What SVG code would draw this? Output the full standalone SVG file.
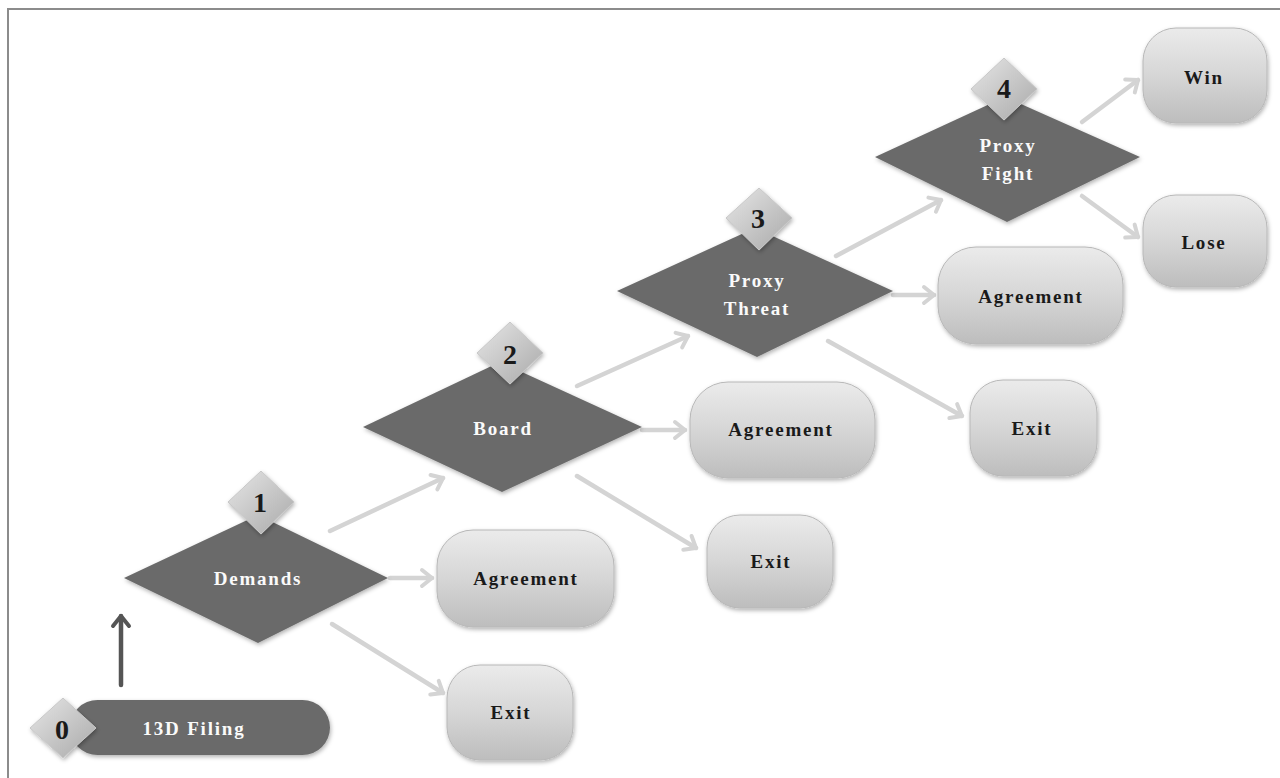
<svg xmlns="http://www.w3.org/2000/svg" width="1280" height="778" viewBox="0 0 1280 778">
<defs>
<linearGradient id="boxg" x1="0" y1="0" x2="0" y2="1">
<stop offset="0" stop-color="#ebebeb"/>
<stop offset="0.5" stop-color="#d6d6d6"/>
<stop offset="1" stop-color="#bdbdbd"/>
</linearGradient>
<linearGradient id="smallg" x1="0" y1="0" x2="1" y2="1">
<stop offset="0" stop-color="#e6e6e6"/>
<stop offset="1" stop-color="#a9a9a9"/>
</linearGradient>
<filter id="sh" x="-10%" y="-10%" width="120%" height="130%">
<feDropShadow dx="1" dy="2" stdDeviation="2" flood-color="#000" flood-opacity="0.3"/>
</filter>
<marker id="ah" markerUnits="userSpaceOnUse" markerWidth="24" markerHeight="24" refX="14" refY="10" orient="auto" viewBox="0 0 24 20">
<path d="M4,2 L14,10 L4,18" fill="none" stroke="#d4d4d4" stroke-width="4" stroke-linecap="round" stroke-linejoin="round"/>
</marker>
<marker id="ahd" markerUnits="userSpaceOnUse" markerWidth="24" markerHeight="24" refX="14" refY="10" orient="auto" viewBox="0 0 24 20">
<path d="M4,2 L14,10 L4,18" fill="none" stroke="#555" stroke-width="4" stroke-linecap="round" stroke-linejoin="round"/>
</marker>
<style>
.big{fill:#6b6b6b;filter:url(#sh)}
.box{fill:url(#boxg);stroke:#b8b8b8;stroke-width:1;filter:url(#sh)}
.sm{fill:url(#smallg);stroke:#c8c8c8;stroke-width:1;filter:url(#sh)}
.wt{font-family:"Liberation Serif",serif;font-weight:bold;font-size:19px;letter-spacing:1.8px;fill:#fafafa;text-anchor:middle;dominant-baseline:central}
.bt{font-family:"Liberation Serif",serif;font-weight:bold;font-size:19px;letter-spacing:1.8px;fill:#1a1a1a;text-anchor:middle;dominant-baseline:central}
.nt{font-family:"Liberation Serif",serif;font-weight:bold;font-size:28px;fill:#1a1a1a;text-anchor:middle;dominant-baseline:central}
.cn{fill:none;stroke:#d4d4d4;stroke-width:4.5;stroke-linecap:round;marker-end:url(#ah)}
</style>
</defs>
<rect x="0" y="0" width="1280" height="778" fill="#ffffff"/>
<path d="M8,778 L8,9 L1280,9" fill="none" stroke="#8c8c8c" stroke-width="2"/>
<g id="connectors">
<line x1="121" y1="685" x2="121" y2="616" stroke="#555" stroke-width="4.5" stroke-linecap="round" marker-end="url(#ahd)"/>
<line class="cn" x1="330" y1="531" x2="443" y2="478"/>
<line class="cn" x1="390" y1="578" x2="432" y2="578"/>
<line class="cn" x1="332" y1="624" x2="443" y2="693"/>
<line class="cn" x1="577" y1="386" x2="688" y2="336"/>
<line class="cn" x1="642" y1="430" x2="685" y2="430"/>
<line class="cn" x1="577" y1="476" x2="696" y2="548"/>
<line class="cn" x1="836" y1="256" x2="941" y2="200"/>
<line class="cn" x1="893" y1="295" x2="934" y2="295"/>
<line class="cn" x1="828" y1="341" x2="962" y2="416"/>
<line class="cn" x1="1082" y1="122" x2="1138" y2="80"/>
<line class="cn" x1="1082" y1="196" x2="1138" y2="237"/>
</g>
<g id="n0">
<rect x="70" y="700" width="260" height="55" rx="27.5" fill="#6b6b6b" filter="url(#sh)"/>
<polygon class="sm" points="63,698 96,728 63,758 30,728"/>
<text class="nt" x="62" y="729">0</text>
<text class="wt" x="194" y="728">13D Filing</text>
</g>
<g id="n1">
<polygon class="big" points="258,515 388,578 258,643 124,578"/>
<polygon class="sm" points="261,471 294,502 261,534 228,502"/>
<text class="nt" x="260" y="502">1</text>
<text class="wt" x="258" y="578">Demands</text>
</g>
<g id="a1">
<rect class="box" x="437" y="530" width="177" height="97" rx="36"/>
<text class="bt" x="526" y="578">Agreement</text>
</g>
<g id="e1">
<rect class="box" x="447" y="665" width="126" height="95" rx="33"/>
<text class="bt" x="511" y="712">Exit</text>
</g>
<g id="n2">
<polygon class="big" points="500,362 642,427 502,492 363,427"/>
<polygon class="sm" points="510,322 543,353 510,384 477,353"/>
<text class="nt" x="510" y="354">2</text>
<text class="wt" x="503" y="428">Board</text>
</g>
<g id="a2">
<rect class="box" x="690" y="382" width="185" height="96" rx="38"/>
<text class="bt" x="781" y="429">Agreement</text>
</g>
<g id="e2">
<rect class="box" x="707" y="515" width="126" height="93" rx="33"/>
<text class="bt" x="771" y="561">Exit</text>
</g>
<g id="n3">
<polygon class="big" points="755,228 893,291 757,357 617,291"/>
<polygon class="sm" points="759,188 792,218 759,250 726,218"/>
<text class="nt" x="758" y="218">3</text>
<text class="wt" x="757" y="280">Proxy</text>
<text class="wt" x="757" y="308">Threat</text>
</g>
<g id="a3">
<rect class="box" x="938" y="247" width="185" height="97" rx="38"/>
<text class="bt" x="1031" y="296">Agreement</text>
</g>
<g id="e3">
<rect class="box" x="970" y="380" width="127" height="96" rx="33"/>
<text class="bt" x="1032" y="428">Exit</text>
</g>
<g id="n4">
<polygon class="big" points="1005,97 1140,157 1007,222 875,157"/>
<polygon class="sm" points="1004,58 1037,89 1004,120 971,89"/>
<text class="nt" x="1004" y="88">4</text>
<text class="wt" x="1008" y="145">Proxy</text>
<text class="wt" x="1008" y="173">Fight</text>
</g>
<g id="win">
<rect class="box" x="1143" y="28" width="124" height="95" rx="33"/>
<text class="bt" x="1204" y="77">Win</text>
</g>
<g id="lose">
<rect class="box" x="1143" y="195" width="124" height="92" rx="33"/>
<text class="bt" x="1204" y="242">Lose</text>
</g>
</svg>
